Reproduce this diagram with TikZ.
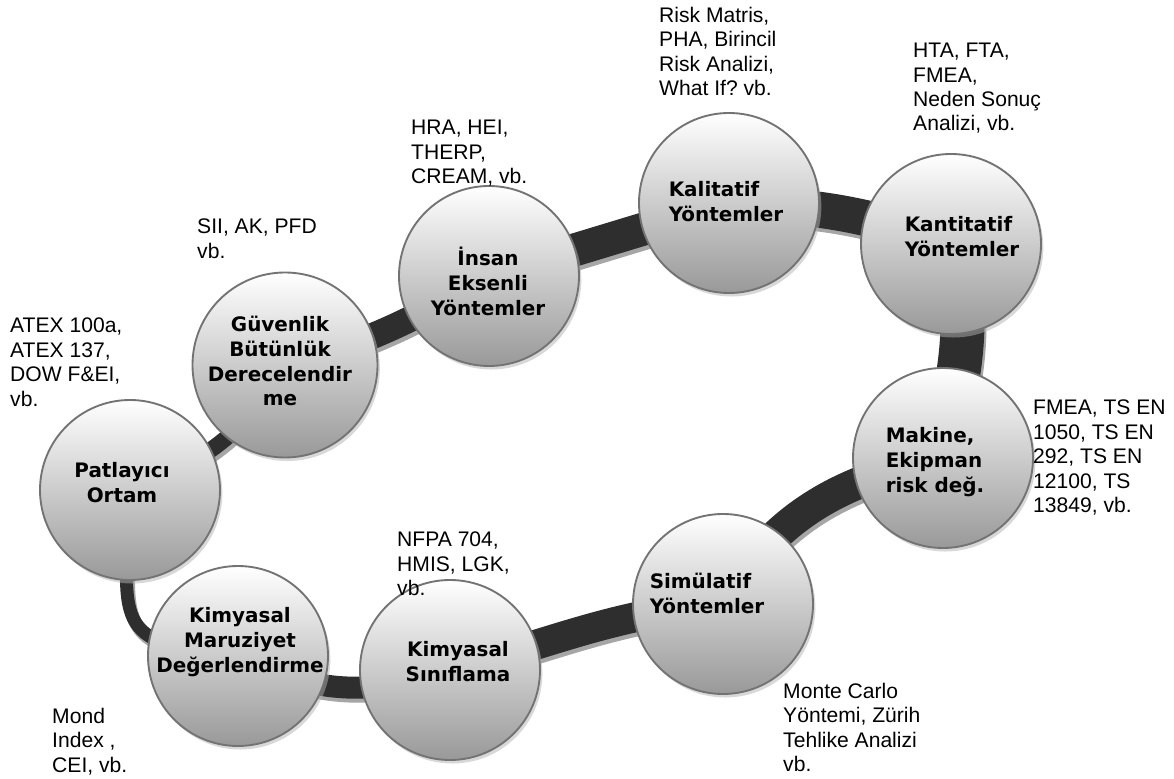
\documentclass[tikz,border=0pt]{standalone}
\usepackage{fontspec}
\setmainfont{Liberation Sans}
\newfontfamily\ballfont{DejaVu Sans}
\usetikzlibrary{positioning,shadows,backgrounds}
\frenchspacing

\tikzset{
  ball/.style={circle, draw=black!55, line width=1.6pt, minimum size=5.4cm, inner sep=0pt,
    top color=white, middle color=black!13, bottom color=black!40,
    drop shadow={shadow xshift=2pt, shadow yshift=-3pt, fill=black!30}},
  balltext/.style={font=\ballfont\bfseries\fontsize{17}{21.3}\selectfont, align=center, inner sep=0pt},
  note/.style={font=\fontsize{18}{20.8}\selectfont, align=left, anchor=north west, inner sep=0pt},
  band/.style={draw=black!82},
  bandshadow/.style={draw=black!35, transform canvas={xshift=0.06cm, yshift=-0.12cm}}
}

\begin{document}
\begin{tikzpicture}[x=0.03cm, y=0.03cm]
  \useasboundingbox (0,0) rectangle (1174,778);

  % circles round the loop
  \node[ball] (pat) at (130,288) {};
  \node[ball, minimum size=5.55cm] (guv) at (285,413) {};
  \node[ball] (ins) at (489,502) {};
  \node[ball] (kal) at (729,575) {};
  \node[ball] (kan) at (951,534) {};
  \node[ball] (mak) at (943,320) {};
  \node[ball] (sim) at (723,174) {};
  \node[ball] (sin) at (450,108) {};
  \node[ball] (mar) at (238,122) {};

  % the band
  \begin{scope}[on background layer]
    \foreach \a/\b/\w/\o/\i/\l in {pat/guv/16/20/240/1, guv/ins/26/15/210/1, ins/kal/33/17/197/1,
        kal/kan/36/-2/160/1, kan/mak/44/-74/80/1, mak/sim/32/192/60/1, sim/sin/30/185/15/1,
        sin/mar/22/199/333/1, pat/mar/13/268/175/1.7} {
      \draw[bandshadow, line width=\w*0.854pt] (\a.center) to[out=\o, in=\i, looseness=\l] (\b.center);
      \draw[band, line width=\w*0.854pt] (\a.center) to[out=\o, in=\i, looseness=\l] (\b.center);
    }
  \end{scope}

  % texts in the circles
  \node[balltext] (pat-t) at ([shift={(-8,7)}]pat.center) {Patlayıcı\\Ortam};
  \node[balltext] (guv-t) at ([shift={(-5,4)}]guv.center) {Güvenlik\\Bütünlük\\Derecelendir\\me};
  \node[balltext] (ins-t) at ([shift={(-1,-5)}]ins.center) {İnsan\\Eksenli\\Yöntemler};
  \node[balltext, align=left] (kal-t) at ([shift={(-3,1)}]kal.center) {Kalitatif\\Yöntemler};
  \node[balltext, align=left] (kan-t) at ([shift={(11,7)}]kan.center) {Kantitatif\\Yöntemler};
  \node[balltext, align=left] (mak-t) at ([shift={(-8,-4)}]mak.center) {Makine,\\Ekipman\\risk değ.};
  \node[balltext, align=left] (sim-t) at ([shift={(-16,11)}]sim.center) {Simülatif\\Yöntemler};
  \node[balltext] (sin-t) at ([shift={(8,8)}]sin.center) {Kimyasal\\Sınıflama};
  \node[balltext] (mar-t) at ([shift={(2,14)}]mar.center) {Kimyasal\\Maruziyet\\Değerlendirme};

  % notes beside the circles
  \node[note] (atex) at (10,460) {ATEX 100a,\\ATEX 137,\\DOW F\&EI,\\vb.};
  \node[note] (sil) at (197,559) {SII, AK, PFD\\vb.};
  \node[note] (hra) at (411,658) {HRA, HEI,\\THERP,\\CREAM, vb.};
  \node[note] (matris) at (659,771) {Risk Matris,\\PHA, Birincil\\Risk Analizi,\\What If? vb.};
  \node[note] (hta) at (913,735) {HTA, FTA,\\FMEA,\\Neden Sonuç\\Analizi, vb.};
  \node[note] (tsen) at (1033,378) {FMEA, TS EN\\1050, TS EN\\292, TS EN\\12100, TS\\13849, vb.};
  \node[note] (monte) at (783,95) {Monte Carlo\\Yöntemi, Zürih\\Tehlike Analizi\\vb.};
  \node[note] (nfpa) at (397,246) {NFPA 704,\\HMIS, LGK,\\vb.};
  \node[note] (mond) at (52,70) {Mond\\Index ,\\CEI, vb.};
\end{tikzpicture}
\end{document}
